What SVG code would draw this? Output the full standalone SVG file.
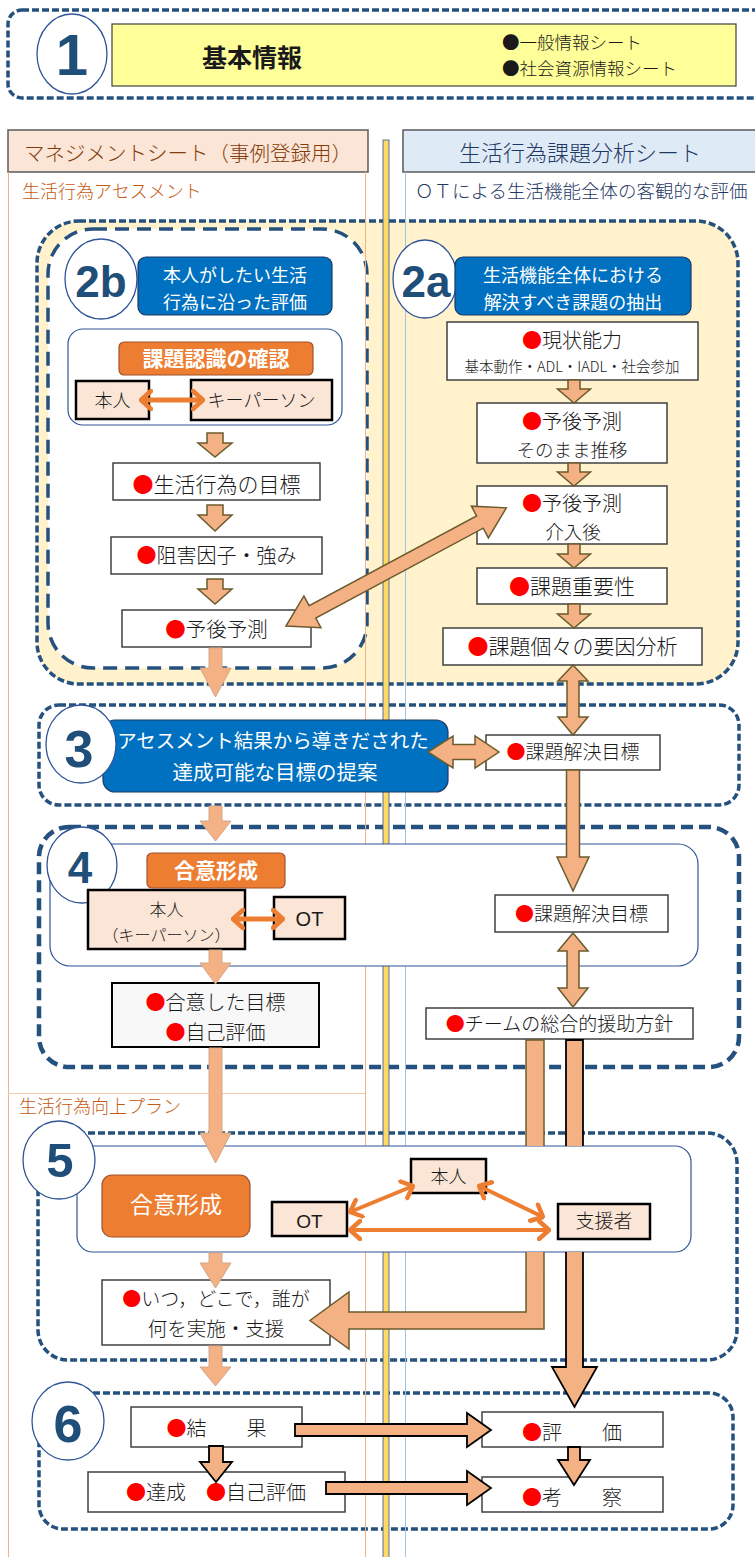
<svg xmlns="http://www.w3.org/2000/svg" width="755" height="1557" viewBox="0 0 755 1557">
<style>
text{font-family:"Noto Sans CJK JP","Noto Sans CJK SC",sans-serif;fill:#1a1a1a;font-weight:300}
.c{text-anchor:middle}
.w{fill:#fff;font-weight:400}
.b{font-weight:bold}
.n{fill:#fff;stroke:#404040;stroke-width:1.5}
.pk{fill:#FBE5D6;stroke:#000;stroke-width:2.5}
.bl{fill:#0070C0;stroke:#1F3864;stroke-width:1.2}
.or{fill:#ED7D31;stroke:#A0522D;stroke-width:1.2}
.ds{fill:none;stroke:#24517E;stroke-width:3.5;stroke-dasharray:7 3}
.ds2{fill:none;stroke:#24517E;stroke-width:3.5;stroke-dasharray:14 8}
.ds4{fill:none;stroke:#24517E;stroke-width:4.5;stroke-dasharray:12 6}
.el{fill:#fff;stroke:#2F5597;stroke-width:1.3}
.ib{fill:#fff;stroke:#2F5597;stroke-width:1.2}
.num{font-family:"Liberation Sans",Arial,sans-serif;font-weight:bold;fill:#1F4E79;text-anchor:middle}
.ar{fill:#F4B183;stroke:#6B5B2E;stroke-width:1.5}
.arl{fill:#F4B183;stroke:#D4A78A;stroke-width:1}
.arb{fill:#F4B183;stroke:#000;stroke-width:1.8}
.oa{fill:none;stroke:#ED7D31;marker-start:url(#oh);marker-end:url(#oh)}
.r{fill:#FF0000}
.lat{font-family:"Liberation Sans",Arial,sans-serif;font-weight:400}
</style>
<defs>
<marker id="oh" viewBox="0 0 14 22" refX="12" refY="11" markerWidth="14" markerHeight="22" markerUnits="userSpaceOnUse" orient="auto-start-reverse">
<path d="M2,2 L12,11 L2,20" fill="none" stroke="#ED7D31" stroke-width="4.5" stroke-linecap="round" stroke-linejoin="round"/>
</marker>
<clipPath id="c5"><path clip-rule="evenodd" d="M0,0H755V1557H0Z M77,1146H691V1252H77Z"/></clipPath>
</defs>
<rect width="755" height="1557" fill="#fff"/>

<!-- section 1 -->
<g id="sec1">
<rect x="8" y="10" width="762" height="88" rx="14" class="ds" style="fill:#fff"/>
<ellipse class="el" cx="72" cy="54" rx="35" ry="40"/>
<text class="num" x="72" y="75" font-size="58">1</text>
<rect x="112" y="24" width="624" height="62" fill="#FFFF99" stroke="#404040" stroke-width="1.2"/>
<text class="c b" x="252" y="67" font-size="25">基本情報</text>
<text x="502" y="49" font-size="17.5">●一般情報シート</text>
<text x="502" y="75" font-size="17.5">●社会資源情報シート</text>
</g>

<!-- headers -->
<g id="hdr-left">
<rect x="8" y="130" width="360" height="42" fill="#FBE5D6" stroke="#595959" stroke-width="1.5"/>
<text class="c" x="188" y="161" font-size="20.5" style="fill:#843C0C">マネジメントシート（事例登録用）</text>
</g>
<g id="hdr-right">
<rect x="403" y="130" width="362" height="42" fill="#DEEBF7" stroke="#595959" stroke-width="1.5"/>
<text class="c" x="580" y="161" font-size="22" style="fill:#1F3864">生活行為課題分析シート</text>
</g>
<text x="22" y="198" font-size="18" style="fill:#C55A11">生活行為アセスメント</text>
<text x="415" y="198" font-size="18.5" style="fill:#1F3864">ＯＴによる生活機能全体の客観的な評価</text>
<text x="19" y="1113" font-size="18" style="fill:#C55A11">生活行為向上プラン</text>

<!-- section frames -->
<g id="frames">
<rect x="37" y="221" width="701" height="463" rx="42" fill="#FFF2CC"/>
<rect x="48" y="229" width="319" height="439" rx="45" fill="#fff"/>
<rect class="ds" x="37" y="221" width="701" height="463" rx="42"/>
<rect class="ds2" x="48" y="229" width="319" height="439" rx="45"/>
<rect class="ds" x="39" y="705" width="700" height="100" rx="20"/>
<rect class="ds4" x="39" y="827" width="700" height="240" rx="30"/>
<rect class="ds" x="38" y="1133" width="699" height="227" rx="30"/>
<rect class="ds" x="39" y="1393" width="694" height="136" rx="24"/>
</g>

<!-- column lines -->
<g id="columns">
<line x1="8.5" y1="172" x2="8.5" y2="1557" stroke="#F4B183" stroke-width="1"/>
<line x1="365.5" y1="172" x2="365.5" y2="1557" stroke="#F4B183" stroke-width="1"/>
<line x1="8" y1="1093.5" x2="365" y2="1093.5" stroke="#F8CBAD" stroke-width="1.2"/>
<line x1="405.5" y1="172" x2="405.5" y2="1557" stroke="#9DC3E6" stroke-width="1"/>
<rect x="383" y="140" width="6" height="1420" fill="#FFD966" stroke="#2F5597" stroke-width="0.8"/>
</g>

<!-- section 2b -->
<g id="n2b-title">
<ellipse class="el" cx="101" cy="279" rx="36" ry="40"/>
<text class="num" x="101" y="297" font-size="44">2b</text>
<rect class="bl" x="138" y="257" width="194" height="58" rx="8"/>
<text class="c w" x="235" y="282" font-size="18">本人がしたい生活</text>
<text class="c w" x="235" y="309" font-size="18">行為に沿った評価</text>
</g>
<g id="n2b-recog">
<rect class="ib" x="68" y="329" width="274" height="96" rx="15"/>
<rect class="or" x="119" y="342" width="194" height="33" rx="5"/>
<text class="c w b" x="216" y="366" font-size="21">課題認識の確認</text>
</g>
<g id="n2b-honnin">
<rect class="pk" x="76" y="381" width="73" height="38"/>
<text class="c" x="112.5" y="407" font-size="18">本人</text>
</g>
<g id="n2b-keyperson">
<rect class="pk" x="191" y="380" width="141" height="40"/>
<text class="c" x="261.5" y="407" font-size="18">キーパーソン</text>
</g>
<g id="n2b-goal">
<rect class="n" x="113" y="463" width="207" height="37"/>
<text class="c" x="216.5" y="492" font-size="21"><tspan class="r">●</tspan>生活行為の目標</text>
</g>
<g id="n2b-factor">
<rect class="n" x="111" y="537" width="211" height="37"/>
<text class="c" x="216.5" y="563" font-size="20"><tspan class="r">●</tspan>阻害因子・強み</text>
</g>
<g id="n2b-prog">
<rect class="n" x="122" y="610" width="189" height="37"/>
<text class="c" x="216.5" y="637" font-size="20.5"><tspan class="r">●</tspan>予後予測</text>
</g>

<!-- section 2a -->
<g id="n2a-title">
<ellipse class="el" cx="425" cy="279" rx="32" ry="39"/>
<text class="num" x="426" y="297" font-size="44">2a</text>
<rect class="bl" x="455" y="257" width="236" height="58" rx="8"/>
<text class="c w" x="573" y="282" font-size="18">生活機能全体における</text>
<text class="c w" x="573" y="309" font-size="18">解決すべき課題の抽出</text>
</g>
<g id="n2a-ability">
<rect class="n" x="447" y="322" width="251" height="58"/>
<text class="c" x="572" y="348" font-size="20"><tspan class="r">●</tspan>現状能力</text>
<text class="c" x="572" y="372" font-size="14.5">基本動作・ADL・IADL・社会参加</text>
</g>
<g id="n2a-prog1">
<rect class="n" x="477" y="403" width="190" height="60"/>
<text class="c" x="572" y="429" font-size="20"><tspan class="r">●</tspan>予後予測</text>
<text class="c" x="572" y="457" font-size="18.5">そのまま推移</text>
</g>
<g id="n2a-prog2">
<rect class="n" x="477" y="486" width="190" height="58"/>
<text class="c" x="572" y="511" font-size="20"><tspan class="r">●</tspan>予後予測</text>
<text class="c" x="573" y="539" font-size="18.5">介入後</text>
</g>
<g id="n2a-importance">
<rect class="n" x="477" y="568" width="190" height="36"/>
<text class="c" x="572" y="594" font-size="21"><tspan class="r">●</tspan>課題重要性</text>
</g>
<g id="n2a-analysis">
<rect class="n" x="443" y="628" width="259" height="37"/>
<text class="c" x="572.5" y="654" font-size="21"><tspan class="r">●</tspan>課題個々の要因分析</text>
</g>

<!-- section 3 -->
<g id="n3-proposal">
<rect class="bl" x="103" y="720" width="345" height="72" rx="12"/>
<text class="c w" x="273" y="748" font-size="19.5">アセスメント結果から導きだされた</text>
<text class="c w" x="275" y="780" font-size="20.5">達成可能な目標の提案</text>
<ellipse class="el" cx="81" cy="744" rx="35" ry="39"/>
<text class="num" x="79" y="767" font-size="52">3</text>
</g>
<g id="n3-goal">
<rect class="n" x="486" y="735" width="174" height="35"/>
<text class="c" x="573" y="759" font-size="19"><tspan class="r">●</tspan>課題解決目標</text>
</g>

<!-- section 4 -->
<g id="n4-frame">
<rect class="ib" x="50" y="844" width="648" height="122" rx="20"/>
<ellipse class="el" cx="82" cy="865" rx="35" ry="38"/>
<text class="num" x="80" y="883" font-size="44">4</text>
<rect class="or" x="147" y="853" width="138" height="35" rx="5"/>
<text class="c w b" x="216" y="878" font-size="21">合意形成</text>
</g>
<g id="n4-honnin">
<rect class="pk" x="88" y="890" width="157" height="59"/>
<text class="c" x="166.5" y="916" font-size="17">本人</text>
<text class="c" x="166.5" y="941" font-size="16">（キーパーソン）</text>
</g>
<g id="n4-ot">
<rect class="pk" x="274" y="897" width="71" height="42"/>
<text class="c lat" x="309.5" y="926" font-size="20">OT</text>
</g>
<g id="n4-goal">
<rect class="n" x="495" y="895" width="173" height="37"/>
<text class="c" x="581.5" y="921" font-size="19"><tspan class="r">●</tspan>課題解決目標</text>
</g>
<g id="n4-agreed">
<rect x="112" y="983" width="207" height="64" fill="#F8F8F8" stroke="#000" stroke-width="2"/>
<text class="c" x="215.5" y="1010" font-size="20"><tspan class="r">●</tspan>合意した目標</text>
<text class="c" x="215.5" y="1040" font-size="20"><tspan class="r">●</tspan>自己評価</text>
</g>
<g id="n4-team">
<rect class="n" x="426" y="1008" width="267" height="31"/>
<text class="c" x="559.5" y="1031" font-size="19"><tspan class="r">●</tspan>チームの総合的援助方針</text>
</g>

<!-- section 5 -->
<g id="n5-frame">
<rect class="ib" x="77" y="1146" width="614" height="106" rx="16"/>
<ellipse class="el" cx="59" cy="1160" rx="36" ry="39"/>
<text class="num" x="60" y="1177" font-size="49">5</text>
</g>
<g id="n5-agree">
<rect class="or" x="102" y="1175" width="148" height="62" rx="10"/>
<text class="c w" x="176" y="1213" font-size="23">合意形成</text>
</g>
<g id="n5-ot">
<rect class="pk" x="272" y="1202" width="75" height="34"/>
<text class="c lat" x="309.5" y="1228" font-size="19">OT</text>
</g>
<g id="n5-honnin">
<rect class="pk" x="411" y="1159" width="75" height="34"/>
<text class="c" x="448.5" y="1183" font-size="18">本人</text>
</g>
<g id="n5-supporter">
<rect class="pk" x="558" y="1204" width="92" height="35"/>
<text class="c" x="604" y="1228" font-size="19">支援者</text>
</g>
<g id="n5-plan">
<rect class="n" x="102" y="1280" width="228" height="65"/>
<text class="c" x="216" y="1306" font-size="19"><tspan class="r">●</tspan>いつ，どこで，誰が</text>
<text class="c" x="216" y="1336" font-size="19.5">何を実施・支援</text>
</g>

<!-- section 6 -->
<g id="n6-num">
<ellipse class="el" cx="68" cy="1421" rx="36" ry="39"/>
<text class="num" x="68" y="1442" font-size="52">6</text>
</g>
<g id="n6-result">
<rect class="n" x="131" y="1407" width="171" height="40"/>
<text class="c" x="216.5" y="1436" font-size="20"><tspan class="r">●</tspan>結　　果</text>
</g>
<g id="n6-achieve">
<rect class="n" x="88" y="1472" width="257" height="40"/>
<text class="c" x="216" y="1500" font-size="20"><tspan class="r">●</tspan>達成　<tspan class="r">●</tspan>自己評価</text>
</g>
<g id="n6-eval">
<rect class="n" x="482" y="1412" width="181" height="35"/>
<text class="c" x="572" y="1440" font-size="20"><tspan class="r">●</tspan>評　　価</text>
</g>
<g id="n6-consider">
<rect class="n" x="482" y="1477" width="181" height="35"/>
<text class="c" x="572" y="1505" font-size="20"><tspan class="r">●</tspan>考　　察</text>
</g>

<!-- connectors -->
<g id="connectors">
<path class="ar" clip-path="url(#c5)" d="M526,1040 H544 V1329 H349 V1349 L310,1320.5 L349,1292 V1312 H526 Z"/>
<path class="arb" clip-path="url(#c5)" d="M566,1040 H583 V1367 H597 L574.5,1407 L552,1367 H566 Z"/>

<path class="ar" d="M207,433 H223 V443 H232 L215,457 L198,443 H207 Z"/>
<path class="ar" d="M207,505 H223 V515 H232 L215,531 L198,515 H207 Z"/>
<path class="ar" d="M207,579 H223 V589 H232 L215,604 L198,589 H207 Z"/>

<path class="ar" d="M568,380 H580 V389 H590.5 L574,403 L557.5,389 H568 Z"/>
<path class="ar" d="M568,463 H580 V472 H590.5 L574,486 L557.5,472 H568 Z"/>
<path class="ar" d="M568,544 H580 V554 H590.5 L574,568 L557.5,554 H568 Z"/>
<path class="ar" d="M568,604 H580 V614 H590.5 L574,628 L557.5,614 H568 Z"/>

<path class="ar" transform="translate(286,626) rotate(-28.2)" d="M0,0 L30,-18 V-7 H220 V-18 L250,0 L220,18 V7 H30 V18 Z"/>

<path class="ar" d="M573,665 L588,681 H579 V717 H588 L573,735 L558,717 H567 V681 H558 Z"/>
<path class="ar" d="M428,752 L453,736 V744.5 H475 V736 L499,752 L475,768 V759.5 H453 V768 Z"/>
<path class="ar" d="M566.5,770 H579.5 V857 H589 L573,891 L557,857 H566.5 Z"/>
<path class="ar" d="M573,933 L588,951 H579 V988 H588 L573,1007 L558,988 H567 V951 H558 Z"/>

<path class="arl" d="M209,648 H222 V668 H231 L215.5,697 L200,668 H209 Z"/>
<path class="arl" d="M209,806 H222 V821 H231 L215.5,841 L200,821 H209 Z"/>
<path class="arl" d="M209,950 H222 V963 H231 L215.5,984 L200,963 H209 Z"/>
<path class="arl" d="M209,1048 H222 V1133 H231 L215.5,1163 L200,1133 H209 Z"/>
<path class="arl" d="M209,1253 H222 V1263 H231 L215.5,1288 L200,1263 H209 Z"/>
<path class="arl" d="M209,1346 H222 V1367 H231 L215.5,1386 L200,1367 H209 Z"/>

<path class="arb" d="M295,1424 H467 V1413 L491,1430 L467,1447 V1436 H295 Z"/>
<path class="arb" d="M326,1482 H467 V1471 L491,1488 L467,1505 V1494 H326 Z"/>
<path class="arb" d="M209,1446 H223 V1462 H232 L216,1482 L200,1462 H209 Z"/>
<path class="arb" d="M568,1447 H580 V1460 H590 L574,1485 L558,1460 H568 Z"/>

<line class="oa" x1="141" y1="400" x2="203" y2="400" stroke-width="5"/>
<line class="oa" x1="233" y1="919" x2="283" y2="919" stroke-width="5"/>
<line class="oa" x1="350" y1="1212" x2="413" y2="1186" stroke-width="4"/>
<line class="oa" x1="479" y1="1186" x2="543" y2="1217" stroke-width="4"/>
<line class="oa" x1="350" y1="1230" x2="549" y2="1230" stroke-width="4"/>
</g>
</svg>
